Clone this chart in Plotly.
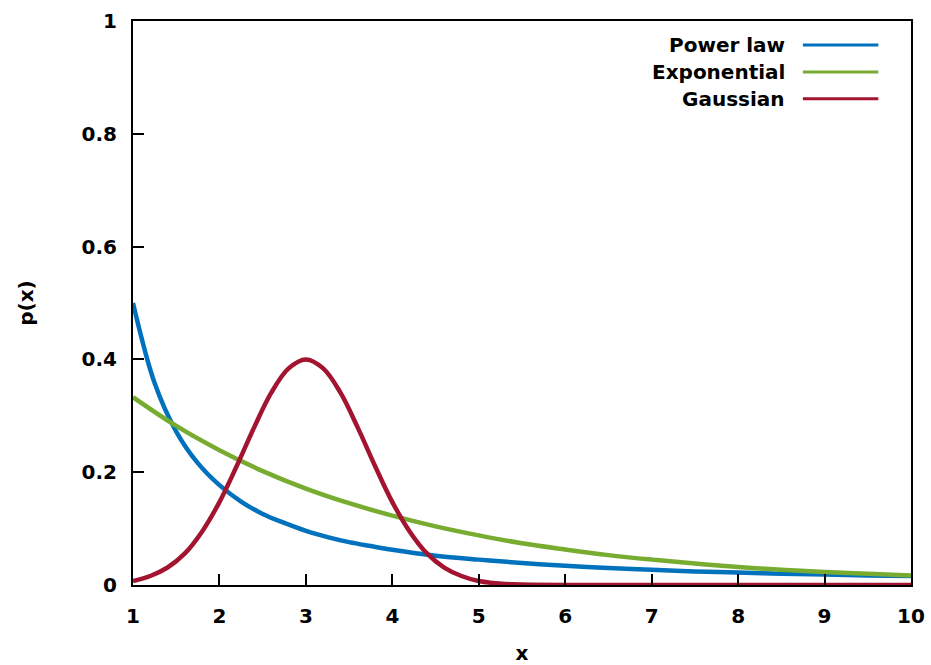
import plotly.graph_objects as go

# ---- data ----
power_x = [1, 1.25, 1.5, 1.75, 2, 2.25, 2.5, 2.75, 3, 3.25, 3.5, 3.75, 4,
           4.5, 5, 5.5, 6, 6.5, 7, 7.5, 8, 8.5, 9, 9.5, 10]
power_y = [0.500, 0.358, 0.272, 0.216, 0.177, 0.148, 0.126, 0.110, 0.096,
           0.085, 0.076, 0.069, 0.0625, 0.052, 0.045, 0.039, 0.034, 0.030,
           0.027, 0.024, 0.022, 0.020, 0.0185, 0.017, 0.016]

expo_x = [1, 1.5, 2, 2.5, 3, 3.5, 4, 4.5, 5, 5.5, 6, 6.5, 7, 7.5, 8, 8.5,
          9, 9.5, 10]
expo_y = [0.333, 0.282, 0.239, 0.202, 0.171, 0.145, 0.123, 0.104, 0.088,
          0.074, 0.063, 0.053, 0.045, 0.038, 0.032, 0.027, 0.023, 0.020,
          0.017]

gauss_x = [1, 1.2, 1.4, 1.6, 1.8, 2, 2.2, 2.4, 2.6, 2.8, 3, 3.2, 3.4, 3.6,
           3.8, 4, 4.2, 4.4, 4.6, 4.8, 5, 5.2, 5.4, 5.6, 6, 7, 8, 9, 10]
gauss_y = [0.007, 0.016, 0.031, 0.056, 0.095, 0.147, 0.211, 0.279, 0.341,
           0.384, 0.400, 0.384, 0.341, 0.279, 0.211, 0.147, 0.095, 0.056,
           0.031, 0.016, 0.007, 0.003, 0.0013, 0.0005, 0, 0, 0, 0, 0]

series_names = ["Power law", "Exponential", "Gaussian"]
series_colors = ["#0072bd", "#77ac30", "#a2142f"]

x_ticks = [1, 2, 3, 4, 5, 6, 7, 8, 9, 10]
y_ticks = [0, 0.2, 0.4, 0.6, 0.8, 1]
y_tick_text = ["0", "0.2", "0.4", "0.6", "0.8", "1"]

FONT = "DejaVu Sans"


def bold(size):
    return dict(family=FONT, size=size, color="black", weight="bold")


fig = go.Figure()
for xs, ys, name, col in zip([power_x, expo_x, gauss_x],
                             [power_y, expo_y, gauss_y],
                             series_names, series_colors):
    fig.add_trace(go.Scatter(x=xs, y=ys, mode="lines", name=name,
                             line=dict(color=col, width=4.5, shape="spline",
                                       smoothing=1.0),
                             showlegend=False))

# custom legend (text right-aligned, sample line on the right)
legend_rows = [0.9575, 0.9097, 0.862]
for name, col, yy in zip(series_names, series_colors, legend_rows):
    fig.add_annotation(x=0.841, y=yy, xref="paper", yref="paper",
                       text=name, showarrow=False, xanchor="right",
                       yanchor="middle", font=bold(20))
    fig.add_shape(type="line", xref="paper", yref="paper",
                  x0=0.861, x1=0.958, y0=yy, y1=yy,
                  line=dict(color=col, width=3))

axis_common = dict(showline=True, mirror=True, linecolor="black",
                   linewidth=2, ticks="inside", ticklen=11, tickwidth=2,
                   tickcolor="black", showgrid=False, zeroline=False,
                   tickfont=bold(20), automargin=False)

fig.update_xaxes(range=[1, 10], tickvals=x_ticks,
                 ticktext=[str(v) for v in x_ticks],
                 title=dict(text="x", font=bold(20), standoff=20),
                 ticklabelstandoff=12,
                 **axis_common)
fig.update_yaxes(range=[0, 1], tickvals=y_ticks, ticktext=y_tick_text,
                 title=dict(text="p(x)", font=bold(20), standoff=43),
                 ticklabelstandoff=10,
                 **axis_common)

fig.update_layout(width=931, height=665,
                  margin=dict(l=133, r=20, t=21, b=80),
                  paper_bgcolor="white", plot_bgcolor="white",
                  showlegend=False)

fig.write_html("out.html")
